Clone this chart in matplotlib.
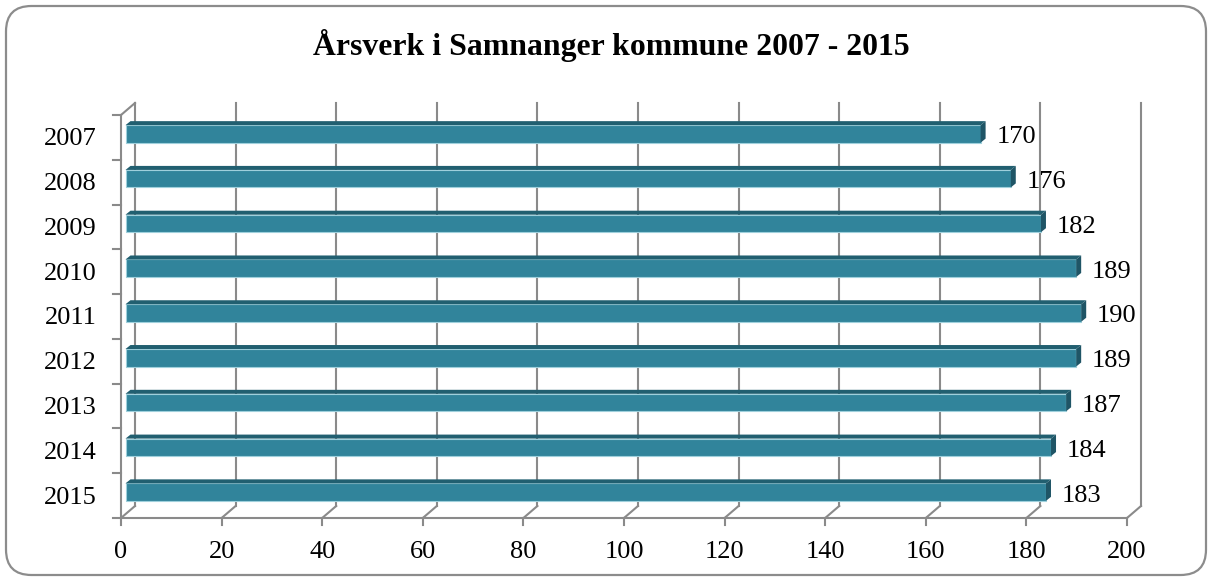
import matplotlib.pyplot as plt
import matplotlib.transforms as mtransforms
from matplotlib.patches import FancyBboxPatch, Polygon

years = ['2007', '2008', '2009', '2010', '2011', '2012', '2013', '2014', '2015']
arsverk = [170, 176, 182, 189, 190, 189, 187, 184, 183]
x_ticks = [0, 20, 40, 60, 80, 100, 120, 140, 160, 180, 200]

plt.rcParams['font.family'] = ['Liberation Serif', 'DejaVu Serif']

W, H = 1212, 580
fig = plt.figure(figsize=(W / 100, H / 100), dpi=100)

# rounded outer frame
frame = FancyBboxPatch((6 / W, 5 / H), 1200 / W, 569 / H,
                       boxstyle='round,pad=0,rounding_size=0.021',
                       transform=fig.transFigure, facecolor='none',
                       edgecolor='#8c8c8c', linewidth=1.6,
                       mutation_aspect=W / H, zorder=-1)
fig.patches.append(frame)

fig.text(0.5045, 1 - 45 / H, 'Årsverk i Samnanger kommune 2007 - 2015',
         ha='center', va='center', fontsize=22.9, fontweight='bold')

ax = fig.add_axes([121 / W, 62 / H, 1006 / W, 403 / H])
ax.set_xlim(0, 200)
ax.set_ylim(8.5, -0.5)
ax.axis('off')
ax.patch.set_alpha(0)

grid = '#8a8a8a'
lw = 1.5
back = mtransforms.offset_copy(ax.transData, fig=fig, x=14, y=12, units='dots')
mid = mtransforms.offset_copy(ax.transData, fig=fig, x=4.5, y=3.5, units='dots')
deep = mtransforms.offset_copy(ax.transData, fig=fig, x=9.5, y=7.5, units='dots')
px_x = 200 / 1006
px_y = 9 / 403

# back wall gridlines, floor diagonals, tick marks
for xv in x_ticks:
    ax.plot([xv, xv], [8.5, -0.5], color=grid, lw=lw, transform=back, clip_on=False)
    ax.plot([xv, xv + 14 * px_x], [8.5, 8.5 - 12 * px_y], color=grid, lw=lw, clip_on=False)
    ax.plot([xv, xv], [8.5, 8.5 + 7 * px_y], color=grid, lw=lw, clip_on=False)
    ax.text(xv, 8.5 + 34 * px_y, str(xv), ha='center', va='center', fontsize=19)

# floor front edge and left wall
ax.plot([0, 200], [8.5, 8.5], color=grid, lw=lw, clip_on=False)
ax.plot([0, 0], [8.5, -0.5], color=grid, lw=lw, clip_on=False)
ax.plot([0, 14 * px_x], [-0.5, -0.5 - 12 * px_y], color=grid, lw=lw, clip_on=False)
for i in range(len(years) + 1):
    ax.plot([0, -8 * px_x], [i - 0.5, i - 0.5], color=grid, lw=lw, clip_on=False)

# bars: front faces
bar_h = 17.5 * px_y
ax.barh(range(len(years)), arsverk, height=bar_h, color='#31849b',
        edgecolor='#9fd0dc', linewidth=0.8, transform=mid, zorder=3)

# top and side faces
inv = ax.transData.inverted()
for i, v in enumerate(arsverk):
    top = i - bar_h / 2
    bot = i + bar_h / 2
    a, b, c = inv.transform(mid.transform([(0, top), (v, top), (v, bot)]))
    a2, b2, c2 = inv.transform(deep.transform([(0, top), (v, top), (v, bot)]))
    ax.add_patch(Polygon([a, b, b2, a2], closed=True, facecolor='#215f70',
                         edgecolor='none', zorder=3, clip_on=False))
    ax.add_patch(Polygon([b, c, c2, b2], closed=True, facecolor='#1f5566',
                         edgecolor='none', zorder=3, clip_on=False))
    ax.text(v + 3.1, i + 3.5 * px_y, str(v), transform=mid, ha='left', va='center',
            fontsize=19, zorder=4)

for i, yr in enumerate(years):
    ax.text(-24 * px_x, i + 2 * px_y, yr, ha='right', va='center', fontsize=19)

fig.savefig('out.png', dpi=100)
